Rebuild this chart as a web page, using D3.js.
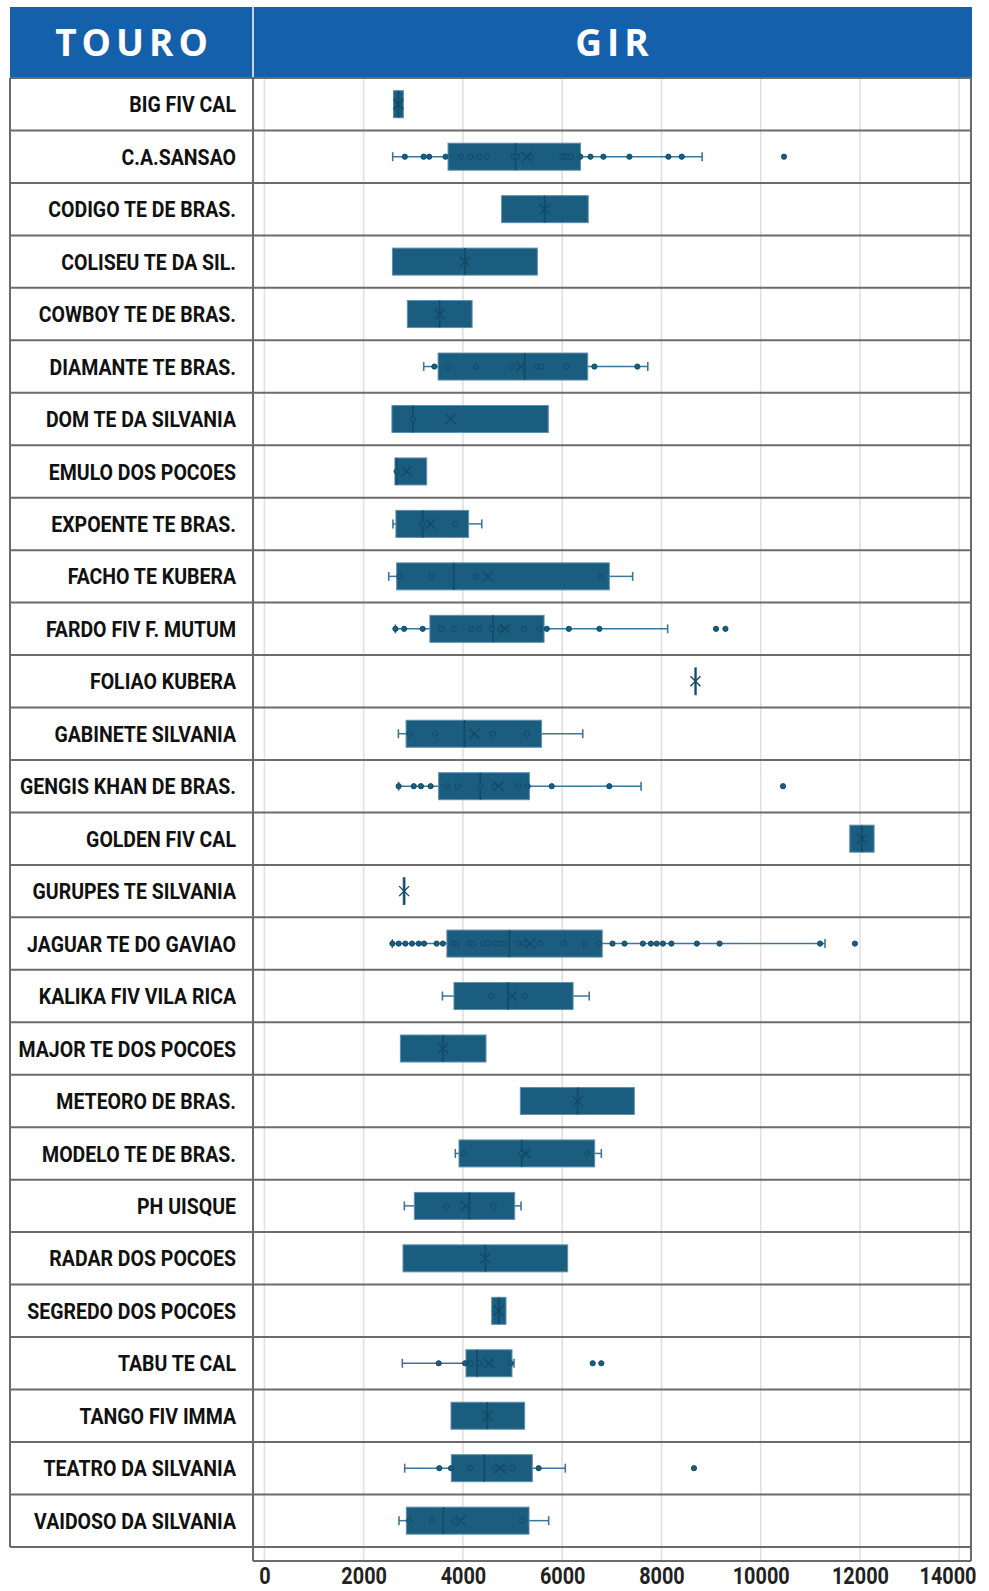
<!DOCTYPE html>
<html><head><meta charset="utf-8">
<script src="https://cdn.jsdelivr.net/npm/d3@7/dist/d3.min.js"></script>
<style>body{margin:0;background:#fff} svg{display:block}</style>
</head><body><svg id="c" width="989" height="1591"></svg>
<script>
const touros = ["BIG FIV CAL","C.A.SANSAO","CODIGO TE DE BRAS.","COLISEU TE DA SIL.","COWBOY TE DE BRAS.","DIAMANTE TE BRAS.","DOM TE DA SILVANIA","EMULO DOS POCOES","EXPOENTE TE BRAS.","FACHO TE KUBERA","FARDO FIV F. MUTUM","FOLIAO KUBERA","GABINETE SILVANIA","GENGIS KHAN DE BRAS.","GOLDEN FIV CAL","GURUPES TE SILVANIA","JAGUAR TE DO GAVIAO","KALIKA FIV VILA RICA","MAJOR TE DOS POCOES","METEORO DE BRAS.","MODELO TE DE BRAS.","PH UISQUE","RADAR DOS POCOES","SEGREDO DOS POCOES","TABU TE CAL","TANGO FIV IMMA","TEATRO DA SILVANIA","VAIDOSO DA SILVANIA"];
const whiskerLow  = [null,2585,null,null,null,3210,null,null,2590,2505,2640,null,2700,2705,null,null,2578,3587,null,null,3847,2820,null,null,2779,null,2827,2712];
const q1          = [2600,3700,4780,2580,2880,3500,2570,2630,2650,2665,3335,8675,2855,3510,11795,2795,3677,3820,2740,5157,3921,3021,2793,4580,4062,3760,3767,2860];
const median      = [2700,5060,5645,4040,3530,5245,2990,2665,3190,3815,4605,8685,4030,4350,12040,2815,4937,4910,3600,6313,5184,4129,4452,4721,4284,4492,4432,3605];
const q3          = [2800,6370,6525,5500,4185,6515,5720,3270,4115,6950,5635,8695,5585,5340,12285,2835,6807,6220,4465,7454,6655,5043,6111,4868,4989,5244,5398,5332];
const whiskerHigh = [null,8820,null,null,null,7725,null,null,4380,7420,8125,null,6415,7590,null,null,11296,6545,null,null,6789,5171,null,null,5029,null,6063,5728];
const mean        = [2700,5285,5645,4040,3530,5170,3755,2865,3345,4505,4850,8685,4230,4715,12040,2815,5350,4990,3600,6313,5271,4055,4452,4721,4525,4492,4747,3955];
const points = [
  [],
  [2830,3210,3320,3650,3955,4150,4330,4480,5015,5095,5370,6000,6050,6100,6170,6365,6570,6830,7355,8140,8410,10470],
  [],[],[],
  [3425,3700,4265,4990,5495,5575,6085,6650,7515],
  [2990],
  [2665],
  [3190,3845],
  [2720,3370,4265,6780],
  [2640,2815,3190,3565,3815,4175,4330,4580,4750,5225,5540,5690,6135,6750,9100,9290],
  [],
  [2920,3445,4605,5290],
  [2705,3010,3155,3350,3685,3895,4350,4645,5125,5305,5790,6950,10450],
  [],[],
  [2579,2706,2841,2975,3110,3218,3470,3596,3803,3875,4118,4208,4405,4496,4658,4748,4839,5108,5224,5557,6033,6457,6745,7014,7257,7626,7788,7905,8030,8201,8714,9172,11197,11898],
  [4575,5250],
  [],[],
  [4015,5184,6507],
  [3666,4620],
  [],[],
  [3512,4042,4156,4330,4962,6615,6789],
  [],
  [3524,3760,4143,4647,4828,4995,5526,8656],
  [2920,3377,3820,5190]
];
const tickValues = [0,2000,4000,6000,8000,10000,12000,14000];

const svg = d3.select('#c');
const L=10, LD=253, R=971, HT=7, HB=78, RH=52.46, N=touros.length, TB=HB+RH*N, PB=1561;
const x = d3.scaleLinear().domain([0,14000]).range([264.4,959.2]);
const y = d3.scaleBand().domain(touros).range([HB,TB]);
const FONT = "Roboto,'Noto Sans',sans-serif";
const BOX='#1b5d7f', DARK='#134a68', EDGE='#5f8fab', LINE='#6b6b6b';

// header
svg.append('rect').attr('x',L).attr('y',HT).attr('width',R+1-L).attr('height',HB-HT).attr('fill','#1560ab');
svg.append('line').attr('x1',LD).attr('x2',LD).attr('y1',HT).attr('y2',HB).attr('stroke','#fff').attr('stroke-width',1.5);
const hdr = [{t:'TOURO',cx:(L+LD)/2},{t:'GIR',cx:(LD+R)/2}];
svg.selectAll('text.hdr').data(hdr).join('text').attr('class','hdr')
  .attr('x',d=>d.cx+2.5).attr('y',56).attr('text-anchor','middle')
  .attr('font-family',"'Open Sans',sans-serif").attr('font-weight',700).attr('font-size',37)
  .attr('letter-spacing',5).attr('fill','#fff').text(d=>d.t);

// grid
const g = svg.append('g');
g.selectAll('line.grid').data(tickValues).join('line').attr('class','grid')
  .attr('x1',d=>x(d)).attr('x2',d=>x(d)).attr('y1',HB).attr('y2',PB)
  .attr('stroke','#e0e0e0').attr('stroke-width',1.6);

// row lines
g.selectAll('line.row').data(d3.range(N+1)).join('line').attr('class','row')
  .attr('x1',L).attr('x2',R).attr('y1',i=>HB+RH*i).attr('y2',i=>HB+RH*i)
  .attr('stroke',LINE).attr('stroke-width',2);
g.append('line').attr('x1',L).attr('x2',L).attr('y1',HB).attr('y2',TB).attr('stroke',LINE).attr('stroke-width',2);
g.append('line').attr('x1',LD).attr('x2',LD).attr('y1',HB).attr('y2',PB).attr('stroke',LINE).attr('stroke-width',2);
g.append('line').attr('x1',R).attr('x2',R).attr('y1',HB).attr('y2',PB).attr('stroke',LINE).attr('stroke-width',2);
g.append('line').attr('x1',LD).attr('x2',R).attr('y1',PB).attr('y2',PB).attr('stroke',LINE).attr('stroke-width',2);

// labels (condensed by horizontal scaling)
const labs = svg.selectAll('text.lab').data(touros).join('text').attr('class','lab')
  .attr('x',0).attr('y',0).attr('dy','0.36em')
  .attr('text-anchor','end').attr('font-family',FONT).attr('font-weight',700)
  .attr('font-size',22.5).attr('fill','#111').text(d=>d);
const refNode = labs.filter(d=>d==='JAGUAR TE DO GAVIAO').node();
const kLab = 209 / refNode.getComputedTextLength();
labs.attr('transform',d=>`translate(236,${y(d)+y.bandwidth()/2}) scale(${kLab},1)`);

// boxes
const BH = 27, CAP = 9;
const rows = touros.map((t,i)=>({t,i,wl:whiskerLow[i],q1:q1[i],md:median[i],q3:q3[i],wh:whiskerHigh[i],mn:mean[i],pts:points[i]}));
const rg = svg.selectAll('g.bx').data(rows).join('g').attr('class','bx')
  .attr('transform',d=>`translate(0,${y(d.t)+y.bandwidth()/2})`);
rg.filter(d=>d.wl!=null).each(function(d){
  const s=d3.select(this);
  s.append('line').attr('x1',x(d.wl)).attr('x2',x(d.q1)).attr('y1',0).attr('y2',0).attr('stroke','#3f7596').attr('stroke-width',1.5);
  s.append('line').attr('x1',x(d.q3)).attr('x2',x(d.wh)).attr('y1',0).attr('y2',0).attr('stroke','#3f7596').attr('stroke-width',1.5);
  [d.wl,d.wh].forEach(v=>s.append('line').attr('x1',x(v)).attr('x2',x(v)).attr('y1',-CAP/2).attr('y2',CAP/2).attr('stroke','#3f7596').attr('stroke-width',1.6));
});
rg.append('rect').attr('x',d=>Math.min(x(d.q1),x(d.q3)-1)).attr('width',d=>Math.max(x(d.q3)-x(d.q1),1.5))
  .attr('y',-BH/2).attr('height',BH).attr('fill',BOX).attr('stroke',EDGE).attr('stroke-width',1);
rg.append('line').attr('x1',d=>x(d.md)).attr('x2',d=>x(d.md)).attr('y1',-BH/2).attr('y2',BH/2)
  .attr('stroke',DARK).attr('stroke-width',1.6);
rg.each(function(d){
  d3.select(this).selectAll('circle').data(d.pts).join('circle')
    .attr('cx',v=>x(v)).attr('cy',0).attr('r',2.6)
    .attr('fill',BOX).attr('stroke',DARK).attr('stroke-width',1);
});
const M=5;
rg.append('path').attr('d',d=>{const cx=x(d.mn);return `M${cx-M},${-M}L${cx+M},${M}M${cx-M},${M}L${cx+M},${-M}`;})
  .attr('stroke',DARK).attr('stroke-width',1.4).attr('fill','none');

// axis
const ax = svg.append('g').attr('transform',`translate(0,${1584})`)
  .call(d3.axisBottom(x).tickValues(tickValues).tickSize(0).tickPadding(0).tickFormat(d3.format('d')));
ax.select('.domain').remove();
const tt = ax.selectAll('text').attr('dy',0).attr('y',0).attr('font-family',FONT).attr('font-weight',700).attr('font-size',24).attr('fill','#222');
const kTick = 57 / tt.filter(d=>d===12000).node().getComputedTextLength();
tt.attr('transform',`scale(${kTick},1)`);
// keep the last label inside the frame edge
tt.filter(d=>d===14000).attr('text-anchor','end').attr('x',(976-x(14000))/kTick);
</script></body></html>
